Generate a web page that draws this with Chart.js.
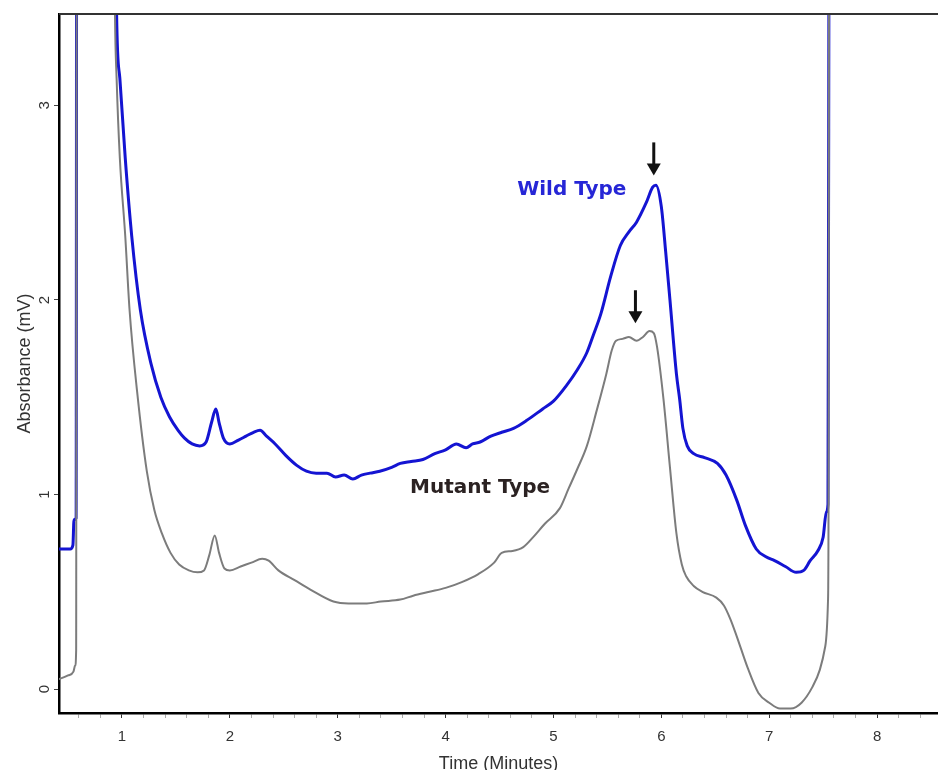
<!DOCTYPE html>
<html>
<head>
<meta charset="utf-8">
<title>Chromatogram</title>
<script src="https://cdn.jsdelivr.net/npm/chart.js@4.4.1/dist/chart.umd.min.js"></script>
<style>
    html, body { margin: 0; padding: 0; background: #fff; }
    #chromChart { display: block; }
</style>
</head>
<body>
<canvas id="chromChart" width="938" height="770"></canvas>
<script>
// Traces: time (minutes) and absorbance (mV)
const wildTime = [
    0.41, 0.52, 0.545, 0.555, 0.575, 0.58, 0.94, 0.95, 0.98, 1.03,
    1.09, 1.17, 1.27, 1.36, 1.44, 1.52, 1.58, 1.65, 1.72, 1.78,
    1.83, 1.87, 1.90, 1.94, 2.0, 2.08, 2.15, 2.22, 2.28, 2.34,
    2.42, 2.52, 2.62, 2.71, 2.80, 2.90, 2.98, 3.06, 3.14, 3.22,
    3.30, 3.39, 3.50, 3.58, 3.68, 3.79, 3.90, 4.0, 4.10, 4.19,
    4.25, 4.32, 4.42, 4.52, 4.63, 4.75, 4.90, 5.0, 5.12, 5.22,
    5.31, 5.37, 5.44, 5.53, 5.62, 5.70, 5.77, 5.86, 5.92, 5.95,
    6.0, 6.04, 6.08, 6.14, 6.17, 6.20, 6.24, 6.30, 6.40, 6.52,
    6.60, 6.70, 6.78, 6.88, 6.97, 7.05, 7.15, 7.25, 7.32, 7.38,
    7.45, 7.50, 7.53, 7.545, 7.555
];
const wildAbs = [
    0.72, 0.72, 0.74, 0.87, 0.88, 4.2, 4.2, 3.47, 3.14, 2.73,
    2.33, 1.95, 1.67, 1.50, 1.40, 1.33, 1.29, 1.26, 1.25, 1.27,
    1.37, 1.44, 1.37, 1.29, 1.26, 1.28, 1.30, 1.32, 1.33, 1.30,
    1.26, 1.20, 1.15, 1.12, 1.11, 1.11, 1.09, 1.10, 1.08, 1.10,
    1.11, 1.12, 1.14, 1.16, 1.17, 1.18, 1.21, 1.23, 1.26, 1.24,
    1.26, 1.27, 1.30, 1.32, 1.34, 1.38, 1.44, 1.48, 1.56, 1.64,
    1.73, 1.82, 1.93, 2.12, 2.28, 2.35, 2.40, 2.50, 2.58, 2.59,
    2.48, 2.25, 2.0, 1.62, 1.49, 1.34, 1.25, 1.21, 1.19, 1.16,
    1.10, 0.97, 0.84, 0.72, 0.68, 0.66, 0.63, 0.60, 0.61, 0.66,
    0.71, 0.78, 0.91, 0.95, 4.2
];

const mutantTime = [
    0.41, 0.50, 0.55, 0.565, 0.575, 0.58, 0.925, 0.935, 0.95, 0.98,
    1.03, 1.07, 1.14, 1.23, 1.30, 1.37, 1.45, 1.53, 1.62, 1.70,
    1.76, 1.81, 1.86, 1.90, 1.95, 2.0, 2.10, 2.20, 2.30, 2.36,
    2.45, 2.60, 2.75, 2.96, 3.10, 3.27, 3.40, 3.58, 3.70, 3.85,
    4.0, 4.15, 4.30, 4.45, 4.52, 4.62, 4.72, 4.81, 4.92, 5.06,
    5.14, 5.22, 5.31, 5.40, 5.49, 5.54, 5.58, 5.64, 5.70, 5.77,
    5.83, 5.89, 5.93, 5.96, 6.02, 6.08, 6.14, 6.19, 6.23, 6.30,
    6.38, 6.51, 6.58, 6.64, 6.70, 6.80, 6.90, 7.00, 7.10, 7.20,
    7.30, 7.40, 7.47, 7.52, 7.545, 7.55, 7.555
];
const mutantAbs = [
    0.05, 0.07, 0.09, 0.12, 0.2, 4.2, 4.2, 3.47, 3.14, 2.73,
    2.33, 1.95, 1.53, 1.12, 0.92, 0.80, 0.70, 0.64, 0.61, 0.60,
    0.61, 0.69, 0.79, 0.70, 0.62, 0.61, 0.63, 0.65, 0.67, 0.66,
    0.61, 0.56, 0.51, 0.45, 0.44, 0.44, 0.45, 0.46, 0.48, 0.50,
    0.52, 0.55, 0.59, 0.65, 0.70, 0.71, 0.73, 0.78, 0.85, 0.93,
    1.03, 1.13, 1.25, 1.43, 1.62, 1.74, 1.79, 1.80, 1.81, 1.79,
    1.81, 1.84, 1.83, 1.76, 1.49, 1.14, 0.80, 0.64, 0.58, 0.53,
    0.50, 0.47, 0.43, 0.36, 0.27, 0.11, -0.02, -0.07, -0.10, -0.10,
    -0.07, 0.01, 0.10, 0.22, 0.45, 0.9, 4.2
];

// Axis ticks (labels shown on whole minutes only)
const xTickValues = [
    0.6, 0.8, 1, 1.2, 1.4, 1.6, 1.8, 2, 2.2, 2.4, 2.6, 2.8, 3, 3.2, 3.4, 3.6, 3.8, 4,
    4.2, 4.4, 4.6, 4.8, 5, 5.2, 5.4, 5.6, 5.8, 6, 6.2, 6.4, 6.6, 6.8, 7, 7.2, 7.4, 7.6,
    7.8, 8, 8.2, 8.4
];
const yTickValues = [0, 1, 2, 3];

const toPoints = (xs, ys) => xs.map((t, i) => ({ x: t, y: ys[i] }));

// Arrows, peak labels and the top frame line
const annotationPlugin = {
    id: 'chromAnnotations',
    afterDatasetsDraw(chart) {
        const { ctx, chartArea, scales } = chart;
        const xs = scales.x;
        const ys = scales.y;
        ctx.save();

        ctx.strokeStyle = '#333';
        ctx.lineWidth = 2;
        ctx.beginPath();
        ctx.moveTo(chartArea.left, chartArea.top);
        ctx.lineTo(chartArea.right, chartArea.top);
        ctx.stroke();

        ctx.font = 'bold 20px "DejaVu Sans"';
        ctx.textAlign = 'center';
        ctx.textBaseline = 'alphabetic';
        ctx.fillStyle = '#2626d6';
        ctx.fillText('Wild Type', xs.getPixelForValue(5.17), ys.getPixelForValue(2.54));
        ctx.fillStyle = '#2b2222';
        ctx.fillText('Mutant Type', xs.getPixelForValue(4.32), ys.getPixelForValue(1.01));

        const drawArrow = (t, fromY, toY) => {
            const px = xs.getPixelForValue(t);
            const top = ys.getPixelForValue(fromY);
            const tip = ys.getPixelForValue(toY);
            ctx.strokeStyle = '#111';
            ctx.fillStyle = '#111';
            ctx.lineWidth = 3;
            ctx.beginPath();
            ctx.moveTo(px, top);
            ctx.lineTo(px, tip - 10);
            ctx.stroke();
            ctx.beginPath();
            ctx.moveTo(px - 7, tip - 12);
            ctx.lineTo(px + 7, tip - 12);
            ctx.lineTo(px, tip);
            ctx.closePath();
            ctx.fill();
        };
        drawArrow(5.93, 2.81, 2.64);
        drawArrow(5.76, 2.05, 1.88);

        ctx.restore();
    }
};

const chartData = {
    datasets: [
        {
            label: 'Mutant Type',
            data: toPoints(mutantTime, mutantAbs),
            borderColor: '#7c7c7c',
            borderWidth: 2,
            pointRadius: 0,
            cubicInterpolationMode: 'monotone',
            fill: false
        },
        {
            label: 'Wild Type',
            data: toPoints(wildTime, wildAbs),
            borderColor: '#1414d2',
            borderWidth: 3,
            pointRadius: 0,
            cubicInterpolationMode: 'monotone',
            fill: false
        }
    ]
};

const chartConfig = {
    type: 'line',
    data: chartData,
    options: {
        responsive: false,
        animation: false,
        layout: { padding: { top: 12, right: 0, bottom: 0, left: 0 } },
        plugins: {
            legend: { display: false },
            tooltip: { enabled: false }
        },
        scales: {
            x: {
                type: 'linear',
                min: 0.416,
                max: 8.565,
                afterBuildTicks: scale => { scale.ticks = xTickValues.map(v => ({ value: v })); },
                afterFit: scale => { scale.height = 57; },
                grid: {
                    drawOnChartArea: false,
                    tickLength: 5,
                    tickColor: ctx => Number.isInteger(ctx.tick.value) ? '#333' : '#aaa'
                },
                border: { color: '#000', width: 2.5 },
                ticks: {
                    autoSkip: false,
                    maxRotation: 0,
                    padding: 10,
                    color: '#333',
                    font: { family: 'Liberation Sans', size: 15 },
                    callback: value => Number.isInteger(value) ? String(value) : ''
                },
                title: {
                    display: true,
                    text: 'Time (Minutes)',
                    color: '#333',
                    font: { family: 'Liberation Sans', size: 18, lineHeight: 0.7 },
                    padding: 0
                }
            },
            y: {
                type: 'linear',
                min: -0.123,
                max: 3.47,
                afterBuildTicks: scale => { scale.ticks = yTickValues.map(v => ({ value: v })); },
                afterFit: scale => { scale.width = 59; },
                grid: { drawOnChartArea: false, tickLength: 5, tickColor: '#444' },
                border: { color: '#000', width: 2.5 },
                ticks: {
                    minRotation: 90,
                    maxRotation: 90,
                    crossAlign: 'center',
                    padding: 5,
                    color: '#333',
                    font: { family: 'Liberation Sans', size: 15 }
                },
                title: {
                    display: true,
                    text: 'Absorbance (mV)',
                    color: '#333',
                    font: { family: 'Liberation Sans', size: 18, lineHeight: 1.2 },
                    padding: { top: 14, bottom: 0 }
                }
            }
        }
    },
    plugins: [annotationPlugin]
};

const ctx = document.getElementById('chromChart').getContext('2d');
new Chart(ctx, chartConfig);
</script>
</body>
</html>
